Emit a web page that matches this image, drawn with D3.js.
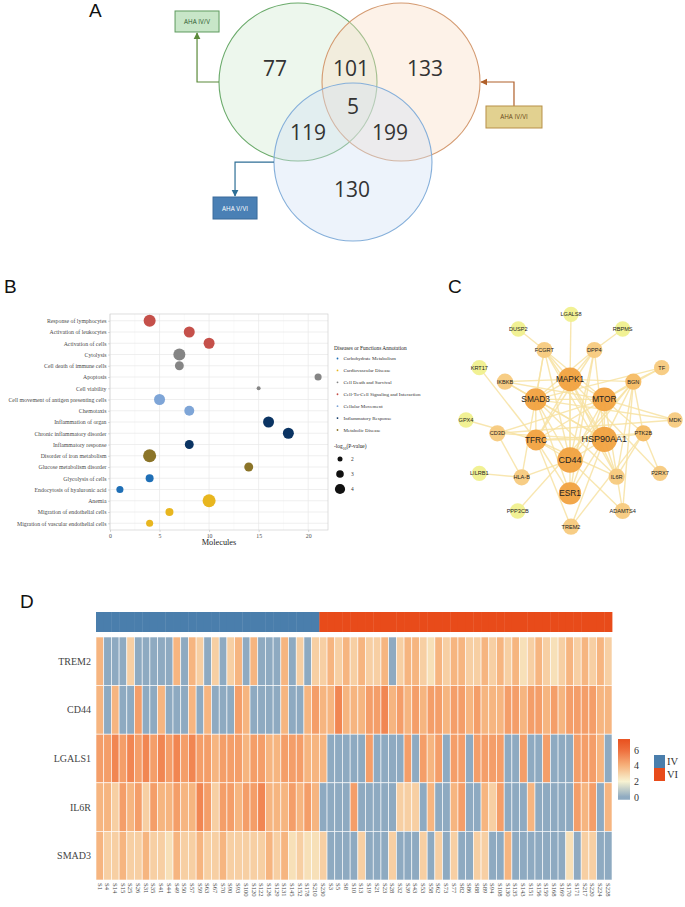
<!DOCTYPE html>
<html><head><meta charset="utf-8">
<script src="https://cdn.jsdelivr.net/npm/d3@7"></script>
<style>body{margin:0;background:#fff}svg{display:block}</style>
</head><body>
<svg id="fig" width="685" height="907"></svg>
<script>
// ================= DATA =================
// ---- Panel A: Venn ----
const vennSets = ["AHA IV/V", "AHA IV/VI", "AHA V/VI"];
const vennCx = [0, 1.304, 0.696];      // circle centres, radius units
const vennCy = [0, 0, 1.013];
const vennCounts = ["77", "101", "133", "5", "119", "199", "130"];
const vennCountX = [-0.291, 0.671, 1.608, 0.696, 0.127, 1.165, 0.684];
const vennCountY = [-0.177, -0.177, -0.177, 0.304, 0.633, 0.633, 1.354];
const vennBoxX = [-1.278, 2.734, -0.797];
const vennBoxY = [-0.766, 0.443, 1.595];

// ---- Panel B: IPA dot plot ----
const terms = ["Response of lymphocytes", "Activation of leukocytes", "Activation of cells", "Cytolysis",
  "Cell death of immune cells", "Apoptosis", "Cell viability", "Cell movement of antigen presenting cells",
  "Chemotaxis", "Inflammation of organ", "Chronic inflammatory disorder", "Inflammatory response",
  "Disorder of iron metabolism", "Glucose metabolism disorder", "Glycolysis of cells",
  "Endocytosis of hyaluronic acid", "Anemia", "Migration of endothelial cells",
  "Migration of vascular endothelial cells"];
const molecules = [4, 8, 10, 7, 7, 21, 15, 5, 8, 16, 18, 8, 4, 14, 4, 1, 10, 6, 4];
const logP = [4.7, 4.3, 4.3, 4.7, 3.5, 2.8, 1.6, 4.3, 3.9, 4.3, 4.3, 3.5, 5.1, 3.5, 3.15, 2.8, 5.1, 3.15, 2.8];
const termCat = [3, 3, 3, 2, 2, 2, 2, 4, 4, 5, 5, 5, 6, 6, 0, 0, 1, 1, 1];
const catNames = ["Carbohydrate Metabolism", "Cardiovascular Disease", "Cell Death and Survival",
  "Cell-To-Cell Signaling and Interaction", "Cellular Movement", "Inflammatory Response", "Metabolic Disease"];
const catColors = ["#1f6fb6", "#e8b61f", "#858585", "#c5504a", "#7ea5d7", "#0b3463", "#8b7428"];
const xTicksB = [0, 5, 10, 15, 20];
const sizeLegend = [2, 3, 4];

// ---- Panel C: PPI network ----
const nodeNames = ["LGALS8", "DUSP2", "RBPMS", "FCGRT", "DPP4", "KRT17", "TF", "IKBKB", "MAPK1", "BGN",
  "SMAD3", "MTOR", "GPX4", "MDK", "CD3D", "TFRC", "HSP90AA1", "PTK2B", "CD44", "LILRB1", "HLA-B",
  "IL6R", "P2RX7", "ESR1", "PPP3CB", "ADAMTS4", "TREM2"];
const nodeLX = [393, 235, 548, 313, 463, 118, 665, 195, 390, 580, 287, 493, 78, 705, 172, 288, 493, 610, 390, 118, 245, 530, 660, 390, 233, 548, 393];
const nodeLY = [73, 117, 117, 180, 180, 233, 233, 275, 268, 275, 328, 328, 390, 390, 430, 450, 448, 430, 510, 550, 562, 560, 550, 610, 663, 663, 710];
const nodeLevel = [0, 0, 0, 1, 1, 0, 1, 1, 3, 2, 3, 3, 0, 1, 1, 3, 3, 2, 3, 0, 1, 1, 1, 3, 0, 1, 1];
const nodeSize = [1, 1, 1, 1.05, 1.05, 1, 1, 1.05, 1.55, 1.05, 1.45, 1.55, 1, 1, 1.05, 1.35, 1.65, 1.05, 1.65, 1, 1.05, 1.05, 1, 1.45, 1, 1.05, 1.05];
const edges = [
  ["LGALS8","MAPK1"],["DUSP2","FCGRT"],["RBPMS","DPP4"],["KRT17","TFRC"],["TF","BGN"],["TF","SMAD3"],["TF","MTOR"],
  ["IKBKB","SMAD3"],["IKBKB","MTOR"],["IKBKB","HSP90AA1"],["GPX4","TFRC"],["MDK","MTOR"],["MDK","SMAD3"],["MDK","CD3D"],
  ["CD3D","HLA-B"],["CD3D","HSP90AA1"],["CD3D","MTOR"],["LILRB1","HLA-B"],["HLA-B","FCGRT"],["HLA-B","CD44"],["PPP3CB","BGN"],
  ["P2RX7","PTK2B"],["P2RX7","MAPK1"],["ADAMTS4","BGN"],["ADAMTS4","CD44"],["ADAMTS4","MTOR"],["TREM2","PTK2B"],
  ["TREM2","HSP90AA1"],["TREM2","TFRC"],["ESR1","MAPK1"],["ESR1","SMAD3"],["ESR1","MTOR"],["ESR1","HSP90AA1"],["ESR1","DPP4"],
  ["CD44","MAPK1"],["CD44","MTOR"],["CD44","SMAD3"],["CD44","HSP90AA1"],["CD44","TFRC"],["CD44","BGN"],["CD44","DPP4"],["CD44","FCGRT"],
  ["MAPK1","SMAD3"],["MAPK1","MTOR"],["MAPK1","HSP90AA1"],["MAPK1","TFRC"],["MAPK1","FCGRT"],["MAPK1","DPP4"],["MAPK1","IL6R"],
  ["MAPK1","BGN"],["MAPK1","IKBKB"],["SMAD3","MTOR"],["SMAD3","HSP90AA1"],["SMAD3","IL6R"],["SMAD3","TFRC"],["SMAD3","DPP4"],
  ["SMAD3","FCGRT"],["MTOR","HSP90AA1"],["MTOR","TFRC"],["MTOR","BGN"],["MTOR","PTK2B"],["MTOR","FCGRT"],["HSP90AA1","TFRC"],
  ["HSP90AA1","IL6R"],["HSP90AA1","PTK2B"],["HSP90AA1","BGN"],["HSP90AA1","FCGRT"],["HSP90AA1","DPP4"],["TFRC","DPP4"],
  ["TFRC","IL6R"],["TFRC","PTK2B"],["IL6R","BGN"],["IL6R","FCGRT"],["BGN","PTK2B"],["ESR1","TFRC"],["IL6R","PTK2B"]
];

// ---- Panel D: heatmap ----
const genes = ["TREM2", "CD44", "LGALS1", "IL6R", "SMAD3"];
const samplesIV = ["S1","S4","S14","S15","S25","S26","S31","S35","S41","S44","S49","S50","S57","S59","S63",
  "S67","S70","S90","S93","S100","S120","S122","S126","S129","S131","S145","S152","S178","S210"];
const samplesVI = ["S230","S3","S5","S8","S10","S13","S19","S21","S23","S28","S32","S39","S43","S53","S58",
  "S62","S73","S77","S82","S86","S88","S89","S94","S108","S130","S135","S143","S151","S156","S159","S168",
  "S169","S170","S171","S217","S220","S224","S228"];
const exprTREM2 = [3.9,0,0,0,3.1,0,0,0,0,0, 3.9,0,3.9,3.1,0,3.1,0,3.1,3.9,0, 3.9,0,0,0,3.9,0,3.1,0,3.1,3.1,
  3.9,3.1,3.9,3.1,3.9,3.1,3.1,3.9,0,3.1, 3.9,3.9,3.1,2.6,3.9,3.1,3.9,3.9,3.1,3.1, 3.9,3.1,3.9,3.1,3.9,2.6,3.1,3.9,3.1,2.6,
  3.1,3.9,3.1,3.9,3.1,3.9,3.1];
const exprCD44 = [3.9,0,3.9,0,0,4.6,0,0,3.9,0, 0,0,3.9,0,3.9,0,0,0,4.6,3.9, 0,0,0,0,3.9,0,0,3.9,4.6,3.9,
  3.9,5.3,3.9,3.9,3.9,4.6,4.6,5.3,3.9,4.6, 3.9,4.6,3.9,4.6,4.6,3.9,4.6,4.6,3.9,4.6, 3.9,3.9,3.9,4.6,4.6,3.9,4.6,4.6,3.9,4.6,
  3.9,4.6,4.6,4.6,4.6,3.9,3.9];
const exprLGALS1 = [4.6,4.6,5.3,4.6,5.3,4.6,5.3,4.6,5.3,4.6, 5.3,4.6,5.3,4.6,4.6,3.9,4.6,4.6,4.6,3.9, 4.6,4.6,3.9,3.9,4.6,4.6,4.6,3.9,3.9,3.9,
  0,0,0,0,0,4.6,0,0,0,0, 4.6,0,4.6,3.9,4.6,0,4.6,4.6,0,4.6, 4.6,4.6,4.6,0,0,4.6,0,0,4.6,0,
  0,0,4.6,4.6,4.6,3.9,0];
const exprIL6R = [3.9,3.9,3.1,4.6,3.9,4.6,3.1,4.6,3.9,3.9, 4.6,3.9,3.9,5.3,4.6,3.1,4.6,4.6,3.9,4.6, 4.6,5.3,3.9,3.9,3.9,4.6,3.9,4.6,3.9,0,
  0,0,0,4.6,0,0,0,0,0,3.1, 3.1,3.1,0,3.9,0,0,3.9,4.6,0,0, 3.9,3.1,4.6,0,0,0,3.9,0,0,0,
  0,0,4.6,3.9,4.6,0,3.9];
const exprSMAD3 = [3.9,3.1,3.1,3.9,3.1,3.1,3.9,3.1,3.1,2.6, 3.9,3.1,3.1,3.9,3.1,3.1,3.9,3.1,3.1,3.1, 3.1,3.1,3.9,3.1,3.9,2.6,3.1,2.6,2.6,3.1,
  0,0,0,0,3.1,0,0,0,3.1,0, 0,0,3.1,0,3.1,0,3.1,0,0,3.1, 3.1,0,0,3.9,0,0,0,0,0,0,
  0,2.6,0,3.1,3.1,0,0];
const groupNames = ["IV", "VI"];
const groupColors = ["#4a7eac", "#e84b1a"];
const legendTicksD = [0, 2, 4, 6];

// ================= DRAW =================
const svg = d3.select("#fig");
svg.append("rect").attr("width", 685).attr("height", 907).attr("fill", "#fff");
const sans = "'Open Sans', 'DejaVu Sans', sans-serif";
const serif = "'Liberation Serif', 'Times New Roman', serif";
const arial = "'Liberation Sans', Arial, sans-serif";

function panelLabel(t, x, y) {
  svg.append("text").attr("x", x).attr("y", y).text(t)
    .attr("font-family", arial).attr("font-size", 19).attr("fill", "#111");
}
panelLabel("A", 89, 17);
panelLabel("B", 4, 293);
panelLabel("C", 448, 293);
panelLabel("D", 20, 608);

// ---- Panel A ----
{
  const R = 79;
  const xs = d3.scaleLinear().domain([0, 1]).range([298, 298 + R]);
  const ys = d3.scaleLinear().domain([0, 1]).range([82, 82 + R]);
  const rs = d3.scaleLinear().domain([0, 1]).range([0, R]);
  const fills = ["#d3ead3", "#f9dfc6", "#d2e2f4"];
  const strokes = ["#6aaa6a", "#d49a70", "#85afda"];
  const g = svg.append("g");
  g.selectAll("circle.v").data(vennSets).join("circle")
    .attr("cx", (d, i) => xs(vennCx[i])).attr("cy", (d, i) => ys(vennCy[i])).attr("r", rs(1))
    .attr("fill", (d, i) => fills[i]).attr("fill-opacity", 0.4)
    .attr("stroke", (d, i) => strokes[i]).attr("stroke-width", 1.1);
  g.selectAll("text.cnt").data(vennCounts).join("text")
    .attr("x", (d, i) => xs(vennCountX[i])).attr("y", (d, i) => ys(vennCountY[i]))
    .attr("text-anchor", "middle").attr("dominant-baseline", "central")
    .attr("font-family", sans).attr("font-size", 21).attr("fill", "#333").text(d => d);

  const defs = svg.append("defs");
  const arrowCols = ["#5b8a3a", "#b0602a", "#2f6f96"];
  arrowCols.forEach((c, i) => {
    defs.append("marker").attr("id", "ar" + i).attr("viewBox", "0 0 10 10").attr("refX", 9).attr("refY", 5)
      .attr("markerWidth", 6).attr("markerHeight", 6).attr("orient", "auto-start-reverse")
      .append("path").attr("d", "M0,0L10,5L0,10z").attr("fill", c);
  });
  const boxW = [44, 56, 44], boxH = [21, 22, 22];
  const boxFill = ["#c8e6c8", "#e2d190", "#4a80b5"];
  const boxStroke = ["#5e9a5e", "#b89048", "#3a6a9a"];
  const boxText = ["#2d5a2d", "#6a4a1a", "#ffffff"];
  const lineGen = d3.line().curve(d3.curveLinear);
  const conn = [
    [[xs(vennCx[0] - 1), ys(0)], [xs(vennBoxX[0]), ys(0)], [xs(vennBoxX[0]), ys(vennBoxY[0]) + boxH[0] / 2 + 1]],
    [[xs(vennBoxX[1]), ys(vennBoxY[1]) - boxH[1] / 2], [xs(vennBoxX[1]), ys(0)], [xs(vennCx[1] + 1) + 1, ys(0)]],
    [[xs(vennCx[2] - 1), ys(vennCy[2])], [xs(vennBoxX[2]), ys(vennCy[2])], [xs(vennBoxX[2]), ys(vennBoxY[2]) - boxH[2] / 2 - 1]]
  ];
  conn.forEach((p, i) => {
    g.append("path").attr("d", lineGen(p)).attr("fill", "none").attr("stroke", arrowCols[i])
      .attr("stroke-width", 1.2).attr("marker-end", `url(#ar${i})`);
  });
  vennSets.forEach((s, i) => {
    const cx = xs(vennBoxX[i]), cy = ys(vennBoxY[i]);
    g.append("rect").attr("x", cx - boxW[i] / 2).attr("y", cy - boxH[i] / 2).attr("width", boxW[i]).attr("height", boxH[i])
      .attr("fill", boxFill[i]).attr("stroke", boxStroke[i]).attr("stroke-width", 1);
    g.append("text").attr("x", cx).attr("y", cy).attr("text-anchor", "middle").attr("dominant-baseline", "central")
      .attr("font-family", sans).attr("font-size", 6.3).attr("fill", boxText[i]).text(s);
  });
}

// ---- Panel B ----
{
  const x = d3.scaleLinear().domain([0, 22]).range([110, 328]);
  const y = d3.scalePoint().domain(terms).range([314, 530]).padding(0.6);
  const r = d3.scaleLinear().domain([2, 4]).range([2.5, 5.1]);
  const g = svg.append("g");
  const minor = [2.5, 7.5, 12.5, 17.5];
  g.selectAll("line.mn").data(minor).join("line").attr("x1", d => x(d)).attr("x2", d => x(d))
    .attr("y1", 314).attr("y2", 530).attr("stroke", "#f4f4f4").attr("stroke-width", 0.5);
  g.selectAll("line.mj").data(xTicksB).join("line").attr("x1", d => x(d)).attr("x2", d => x(d))
    .attr("y1", 314).attr("y2", 530).attr("stroke", "#e8e8e8").attr("stroke-width", 0.7);
  g.selectAll("line.hy").data(terms).join("line").attr("x1", 110).attr("x2", 328)
    .attr("y1", d => y(d)).attr("y2", d => y(d)).attr("stroke", "#e8e8e8").attr("stroke-width", 0.7);
  g.append("rect").attr("x", 110).attr("y", 314).attr("width", 218).attr("height", 216)
    .attr("fill", "none").attr("stroke", "#d0d0d0").attr("stroke-width", 0.7);
  const ax = g.append("g").attr("transform", "translate(0,530)")
    .call(d3.axisBottom(x).tickValues(xTicksB).tickSize(2).tickPadding(1.5));
  const ay = g.append("g").attr("transform", "translate(110,0)")
    .call(d3.axisLeft(y).tickSize(2).tickPadding(1.5));
  [ax, ay].forEach(a => {
    a.select(".domain").remove();
    a.selectAll("line").attr("stroke", "#b0b0b0").attr("stroke-width", 0.5);
    a.selectAll("text").attr("font-family", serif).attr("font-size", 5.8).attr("fill", "#4a4a4a");
  });
  g.append("text").attr("x", 219).attr("y", 545).attr("text-anchor", "middle")
    .attr("font-family", serif).attr("font-size", 8.3).attr("fill", "#222").text("Molecules");
  g.selectAll("circle.d").data(terms).join("circle")
    .attr("cx", (d, i) => x(molecules[i])).attr("cy", d => y(d)).attr("r", (d, i) => r(logP[i]))
    .attr("fill", (d, i) => catColors[termCat[i]]);
  const lg = svg.append("g");
  lg.append("text").attr("x", 334).attr("y", 350).attr("font-family", serif).attr("font-size", 5.4)
    .attr("fill", "#222").text("Diseases or Functions Annotation");
  const ly = d3.scalePoint().domain(catNames).range([358.5, 430]);
  lg.selectAll("circle.l").data(catNames).join("circle").attr("cx", 337.5).attr("cy", d => ly(d))
    .attr("r", 0.9).attr("fill", (d, i) => catColors[i]);
  lg.selectAll("text.l").data(catNames).join("text").attr("x", 343.5).attr("y", d => ly(d) + 1.7)
    .attr("font-family", serif).attr("font-size", 5).attr("fill", "#333").text(d => d);
  const t = lg.append("text").attr("x", 334).attr("y", 448).attr("font-family", serif).attr("font-size", 5.4).attr("fill", "#222");
  t.append("tspan").text("-log");
  t.append("tspan").attr("font-size", 3.8).attr("dy", 1.5).text("10");
  t.append("tspan").attr("dy", -1.5).text("(P-value)");
  const sy = d3.scalePoint().domain(sizeLegend).range([459, 489]);
  lg.selectAll("circle.s").data(sizeLegend).join("circle").attr("cx", 340).attr("cy", d => sy(d))
    .attr("r", d => r(d)).attr("fill", "#111");
  lg.selectAll("text.s").data(sizeLegend).join("text").attr("x", 351).attr("y", d => sy(d) + 2)
    .attr("font-family", serif).attr("font-size", 5.4).attr("fill", "#333").text(d => d);
}

// ---- Panel C ----
{
  const x = d3.scaleLinear().domain([0, 735]).range([440, 685]);
  const y = d3.scaleLinear().domain([0, 810]).range([290, 560]);
  const nodeCol = d3.scaleOrdinal().domain([0, 1, 2, 3]).range(["#f0f08e", "#f7ca7e", "#f5bc64", "#f1a240"]);
  const rad = d3.scaleLinear().domain([0, 1]).range([0, 7.7]);
  const idx = new Map(nodeNames.map((n, i) => [n, i]));
  const g = svg.append("g");
  g.selectAll("line.e").data(edges).join("line")
    .attr("x1", d => x(nodeLX[idx.get(d[0])])).attr("y1", d => y(nodeLY[idx.get(d[0])]))
    .attr("x2", d => x(nodeLX[idx.get(d[1])])).attr("y2", d => y(nodeLY[idx.get(d[1])]))
    .attr("stroke", "#f7e2a2").attr("stroke-opacity", 0.85).attr("stroke-width", 1.4);
  g.selectAll("circle.n").data(nodeNames).join("circle")
    .attr("cx", (d, i) => x(nodeLX[i])).attr("cy", (d, i) => y(nodeLY[i])).attr("r", (d, i) => rad(nodeSize[i]))
    .attr("fill", (d, i) => nodeCol(nodeLevel[i])).attr("fill-opacity", 0.95);
  g.selectAll("text.n").data(nodeNames).join("text")
    .attr("x", (d, i) => x(nodeLX[i])).attr("y", (d, i) => y(nodeLY[i]))
    .attr("text-anchor", "middle").attr("dominant-baseline", "central")
    .attr("font-family", arial).attr("font-size", (d, i) => nodeLevel[i] === 3 ? (nodeSize[i] > 1.6 ? 9 : 8.3) : 5.6)
    .attr("fill", "#222").text(d => d);
}

// ---- Panel D ----
{
  const samples = samplesIV.concat(samplesVI);
  const groups = samplesIV.map(() => 0).concat(samplesVI.map(() => 1));
  const expr = [exprTREM2, exprCD44, exprLGALS1, exprIL6R, exprSMAD3];
  const x = d3.scaleBand().domain(samples).range([96, 612]);
  const y = d3.scaleBand().domain(genes).range([637, 880]);
  const color = d3.scaleLinear().domain([0, 2, 4, 6, 7.4])
    .range(["#8eaac1", "#f8f3d2", "#f6b27c", "#ee6e3c", "#e8501e"]).clamp(true);
  const g = svg.append("g");
  g.selectAll("rect.a").data(samples).join("rect")
    .attr("x", d => x(d)).attr("y", 612).attr("width", x.bandwidth() + 0.4).attr("height", 20)
    .attr("fill", (d, i) => groupColors[groups[i]]);
  const cells = [];
  genes.forEach((gn, gi) => samples.forEach((s, si) => cells.push({ g: gn, s: s, v: expr[gi][si] })));
  g.selectAll("rect.c").data(cells).join("rect")
    .attr("x", d => x(d.s)).attr("y", d => y(d.g)).attr("width", x.bandwidth()).attr("height", y.bandwidth())
    .attr("fill", d => color(d.v)).attr("stroke", "#ffffff").attr("stroke-opacity", 0.85).attr("stroke-width", 0.7);
  g.selectAll("text.g").data(genes).join("text")
    .attr("x", 91).attr("y", d => y(d) + y.bandwidth() / 2).attr("text-anchor", "end").attr("dominant-baseline", "central")
    .attr("font-family", serif).attr("font-size", 10).attr("fill", "#444").text(d => d);
  g.selectAll("text.s").data(samples).join("text")
    .attr("transform", d => `translate(${x(d) + x.bandwidth() / 2 - 2.3},883) rotate(90)`)
    .attr("font-family", serif).attr("font-size", 6.6).attr("fill", "#444").text(d => d);
  const ly = d3.scaleLinear().domain([0, 6]).range([797, 750]);
  const grad = svg.append("defs").append("linearGradient").attr("id", "hmgrad")
    .attr("x1", 0).attr("y1", 1).attr("x2", 0).attr("y2", 0);
  const stops = d3.range(0, 1.0001, 0.05);
  const lo = -0.35, hi = 7.4;
  grad.selectAll("stop").data(stops).join("stop").attr("offset", d => d)
    .attr("stop-color", d => color(lo + d * (hi - lo)));
  g.append("rect").attr("x", 618).attr("y", ly(hi)).attr("width", 12).attr("height", ly(lo) - ly(hi)).attr("fill", "url(#hmgrad)");
  g.selectAll("text.lt").data(legendTicksD).join("text")
    .attr("x", 634).attr("y", d => ly(d)).attr("dominant-baseline", "central")
    .attr("font-family", serif).attr("font-size", 10).attr("fill", "#333").text(d => d);
  const gy = d3.scaleBand().domain(groupNames).range([755, 781]);
  g.selectAll("rect.gl").data(groupNames).join("rect")
    .attr("x", 654).attr("y", d => gy(d)).attr("width", 11).attr("height", gy.bandwidth())
    .attr("fill", (d, i) => groupColors[i]);
  g.selectAll("text.gl").data(groupNames).join("text")
    .attr("x", 667).attr("y", d => gy(d) + gy.bandwidth() / 2).attr("dominant-baseline", "central")
    .attr("font-family", serif).attr("font-size", 10.5).attr("fill", "#333").text(d => d);
}
</script>
</body></html>
